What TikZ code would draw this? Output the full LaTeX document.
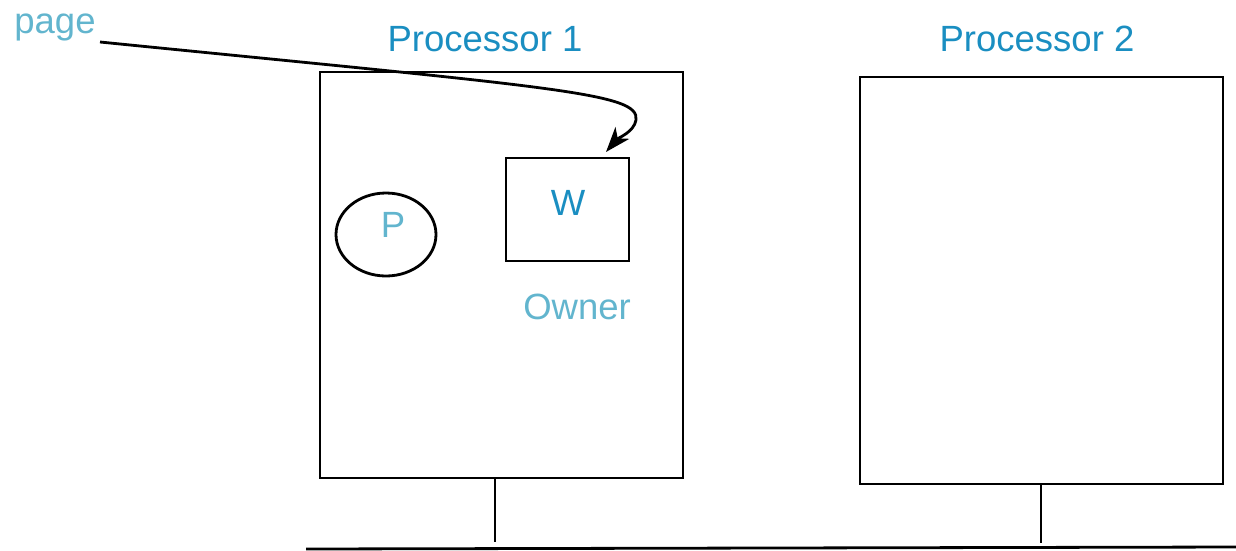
\documentclass[tikz,border=0pt]{standalone}
\usepackage{fontspec}
\setmainfont{Liberation Sans}
\usetikzlibrary{arrows.meta,shapes.geometric}
\definecolor{lightcyan}{HTML}{62B5CE}
\definecolor{deepcyan}{HTML}{1A8EC1}
\begin{document}
\begin{tikzpicture}[x=1pt,y=-1pt,
  line width=2.8pt,
  lbl/.style={font=\fontsize{36.5}{42}\selectfont, inner sep=0pt, anchor=base},
  softlbl/.style={lbl, text=lightcyan},
  hardlbl/.style={lbl, text=deepcyan},
  procbox/.style={draw, rectangle, minimum width=363pt, inner sep=0pt},
  pagebox/.style={draw, rectangle, minimum width=123pt, minimum height=103pt, inner sep=0pt},
  procnode/.style={draw, ellipse, minimum width=100pt, minimum height=83pt, inner sep=0pt}
]
\useasboundingbox (0,0) rectangle (1236,550);

% processors
\node[procbox, minimum height=406pt] (p1) at (501.5,275) {};
\node[procbox, minimum height=407pt] (p2) at (1041.5,280.5) {};
\node[hardlbl] (p1lbl) at (485,51) {Processor 1};
\node[hardlbl] (p2lbl) at (1037,51) {Processor 2};

% process and owned page inside processor 1
\node[procnode] (proc) at (386,234.5) {};
\node[softlbl] (plbl) at (393,237) {P};
\node[pagebox] (w) at (567.5,209.5) {};
\node[hardlbl] (wlbl) at (568,215) {W};
\node[softlbl] (owner) at (577,319) {Owner};

% page label and pointer into W
\node[softlbl, anchor=base west] (page) at (13,33) {page};
\coordinate (pagetail) at (100,42);
\coordinate (bend) at (636,120);
\coordinate (wtip) at (606,152);
\draw[-{Stealth[length=25pt,width=18pt,inset=7pt]}]
  (pagetail) .. controls (560,88) and (640,93) .. (bend)
  .. controls (634,132) and (618,138) .. (wtip);

% interconnect
\coordinate (busL) at (306,549);
\coordinate (busR) at (1236,547);
\coordinate (s1) at (495,542);
\coordinate (s2) at (1041,543);
\draw (busL) -- (busR);
\draw (p1.south -| s1) -- (s1);
\draw (p2.south -| s2) -- (s2);
\end{tikzpicture}
\end{document}
